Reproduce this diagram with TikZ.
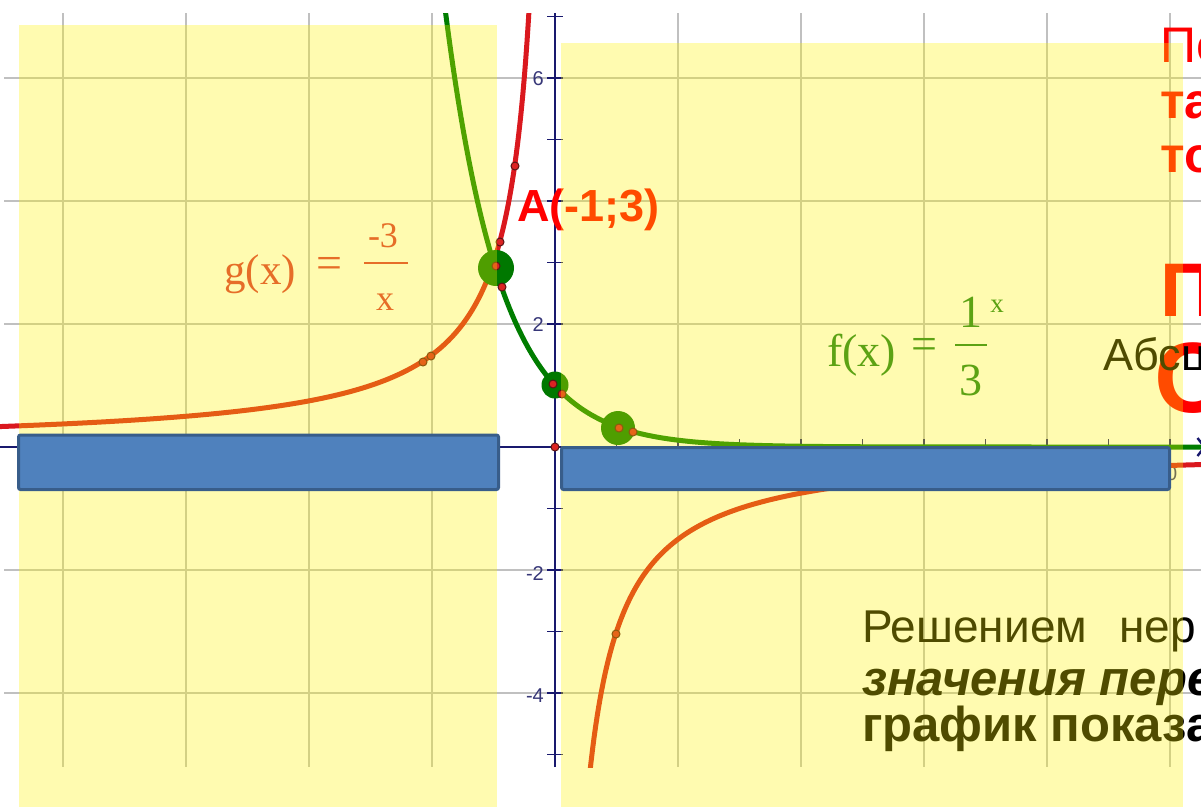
\documentclass[tikz,border=0pt]{standalone}
\usepackage{fontspec}
\setmainfont{Liberation Sans}
\newfontfamily\serifface{Liberation Serif}
\usetikzlibrary{arrows.meta}
\definecolor{gridgray}{RGB}{192,192,192}
\definecolor{axisnavy}{RGB}{25,25,110}
\definecolor{ticklab}{RGB}{55,55,120}
\definecolor{gcurve}{RGB}{218,24,30}
\definecolor{fcurve}{RGB}{0,125,0}
\definecolor{dotgreen}{RGB}{0,120,0}
\definecolor{dotred}{RGB}{220,35,35}
\definecolor{dotedge}{RGB}{90,20,20}
\definecolor{glabel}{RGB}{219,49,58}
\definecolor{flabel}{RGB}{20,125,30}
\definecolor{veil}{RGB}{255,245,0}
\definecolor{barfill}{RGB}{79,129,189}
\definecolor{baredge}{RGB}{56,93,138}
\definecolor{txtred}{RGB}{255,0,0}
\begin{document}
\begin{tikzpicture}[x=1pt,y=-1pt,
  gridline/.style={draw=gridgray,line width=1.3pt},
  axisline/.style={draw=axisnavy,line width=2.4pt},
  tickmark/.style={draw=axisnavy,line width=1.8pt},
  ticklabel/.style={text=ticklab,font=\fontsize{20}{20}\selectfont,inner sep=0pt},
  curveg/.style={draw=gcurve,line width=5pt,line cap=round,line join=round},
  curvef/.style={draw=fcurve,line width=5pt,line cap=round,line join=round},
  bigdot/.style={circle,fill=dotgreen,inner sep=0pt},
  smalldot/.style={circle,fill=dotred,draw=dotedge,line width=1pt,minimum size=8pt,inner sep=0pt},
  veilbox/.style={fill=veil,fill opacity=0.31},
  barbox/.style={fill=barfill,draw=baredge,line width=3pt,rounded corners=2pt},
  txt/.style={anchor=base west,inner sep=0pt},
  glab/.style={inner sep=0pt,text=glabel,font=\serifface\fontsize{#1}{#1}\selectfont},
  flab/.style={inner sep=0pt,text=flabel,font=\serifface\fontsize{#1}{#1}\selectfont}
]
\useasboundingbox (0,0) rectangle (1201,807);
\fill[white] (0,0) rectangle (1201,807);
% grid
\foreach \gx in {63,186,309,432,678,801,924,1047,1170}
  \draw[gridline] (\gx,13) -- (\gx,767);
\foreach \gy in {78,201,324,570,693}
  \draw[gridline] (4,\gy) -- (1201,\gy);
% axes
\coordinate (xstart) at (0,447);
\coordinate (xend) at (1206,447);
\draw[axisline,-{Straight Barb[length=7pt,width=18pt]}] (xstart) -- (xend);
\coordinate (ybot) at (555,767);
\coordinate (ytop) at (555,13);
\draw[axisline] (ybot) -- (ytop);
\foreach \k in {-8,...,-1,1,2,...,10}
  \draw[tickmark] ({555+61.5*\k},439) -- ({555+61.5*\k},455);
\foreach \k in {-5,...,-1,1,2,...,7}
  \draw[tickmark] (547,{447-61.5*\k}) -- (563,{447-61.5*\k});
\node[ticklabel,anchor=east] (ly6) at (544,79) {6};
\node[ticklabel,anchor=east] (ly2) at (544,325) {2};
\node[ticklabel,anchor=east] (lym2) at (544,574) {-2};
\node[ticklabel,anchor=east] (lym4) at (544,696) {-4};
\foreach \k/\nm in {-8/xa,-6/xb,-4/xc,-2/xd,2/xe,4/xf,6/xg,8/xh,10/xi}
  \node[ticklabel,anchor=north] (\nm) at ({555+61.5*\k-4},466) {\k};
% curves
\begin{scope}
  \clip (0,13) rectangle (1201,767);
  \draw[curveg] plot[domain=-9.1:-0.41,samples=400,variable=\t] ({555+61.5*\t},{447+184.5/\t});
  \draw[curveg] plot[domain=0.56:10.6,samples=400,variable=\t] ({555+61.5*\t},{447+184.5/\t});
  \draw[curvef] plot[domain=-1.82:10.6,samples=300,variable=\t] ({555+61.5*\t},{447-61.5*exp(-1.0986*\t)});
\end{scope}
% big points
\node[bigdot,minimum size=36pt] (dA) at (496,268) {};
\node[bigdot,minimum size=27pt] (dz) at (555,385) {};
\node[bigdot,minimum size=34pt] (dB) at (618,428) {};
% small points
\foreach \px/\py/\nm in {500/242/pa,496/266/pb,502/287/pc,423/362/pd,431/356/pe,553/384/pf,562/394/pg,619/428/ph,633/432/pi,555/447/pj,515/166/pk,616/634/pl}
  \node[smalldot] (\nm) at (\px,\py) {};
% function labels
\node[glab=43,anchor=base west] (gname) at (224,284) {g(x)};
\node[glab=46] (geq) at (329,268) {=};
\node[glab=36,anchor=base] (gnum) at (383,247) {-3};
\node[glab=36,anchor=base] (gden) at (385,310) {x};
\draw[draw=glabel,line width=1.8pt] (364,263) -- (408,263);
\node[flab=46,anchor=base west] (fname) at (827,366) {f(x)};
\node[flab=46] (feq) at (924,349) {=};
\node[flab=46,anchor=base] (fnum) at (971,327) {1};
\node[flab=27,anchor=base] (fexp) at (997,312) {x};
\node[flab=46,anchor=base] (fden) at (971,395) {3};
\draw[draw=flabel,line width=1.8pt] (955,345) -- (987,345);
% point label
\node[txt,text=txtred,font=\fontsize{45}{45}\selectfont\bfseries] (lblA) at (517,221) {A(-1;3)};
% right side texts
\node[txt,text=txtred,font=\fontsize{50}{50}\selectfont] (t1) at (1160,62) {По};
\node[txt,text=txtred,font=\fontsize{50}{50}\selectfont\bfseries] (t2) at (1160,118) {та};
\node[txt,text=txtred,font=\fontsize{50}{50}\selectfont\bfseries] (t3) at (1160,172) {то};
\node[txt,text=txtred,font=\fontsize{76}{76}\selectfont\bfseries] (t4) at (1160,316) {П};
\node[txt,text=txtred,font=\fontsize{100}{100}\selectfont\bfseries] (t5) at (1154,412) {О};
\node[txt,text=black,font=\fontsize{45}{45}\selectfont] (t6) at (1103,370) {Абсц};
\node[txt,text=black,font=\fontsize{46}{46}\selectfont] (b1) at (862,642) {Решением\hspace{32pt}нер};
\node[txt,text=black,font=\fontsize{49}{49}\selectfont\bfseries\itshape] (b2) at (862,695) {значения пере};
\node[txt,text=black,font=\fontsize{49}{49}\selectfont\bfseries] (b3) at (862,741) {график показа};
% translucent yellow panels
\fill[veilbox] (19,25) rectangle (497,807);
\fill[veilbox] (561,43) rectangle (1183,807);
% blue bars
\draw[barbox] (18.5,435) rectangle (498.5,489.5);
\draw[barbox] (561.5,447.5) rectangle (1169.5,489.5);
\end{tikzpicture}
\end{document}
